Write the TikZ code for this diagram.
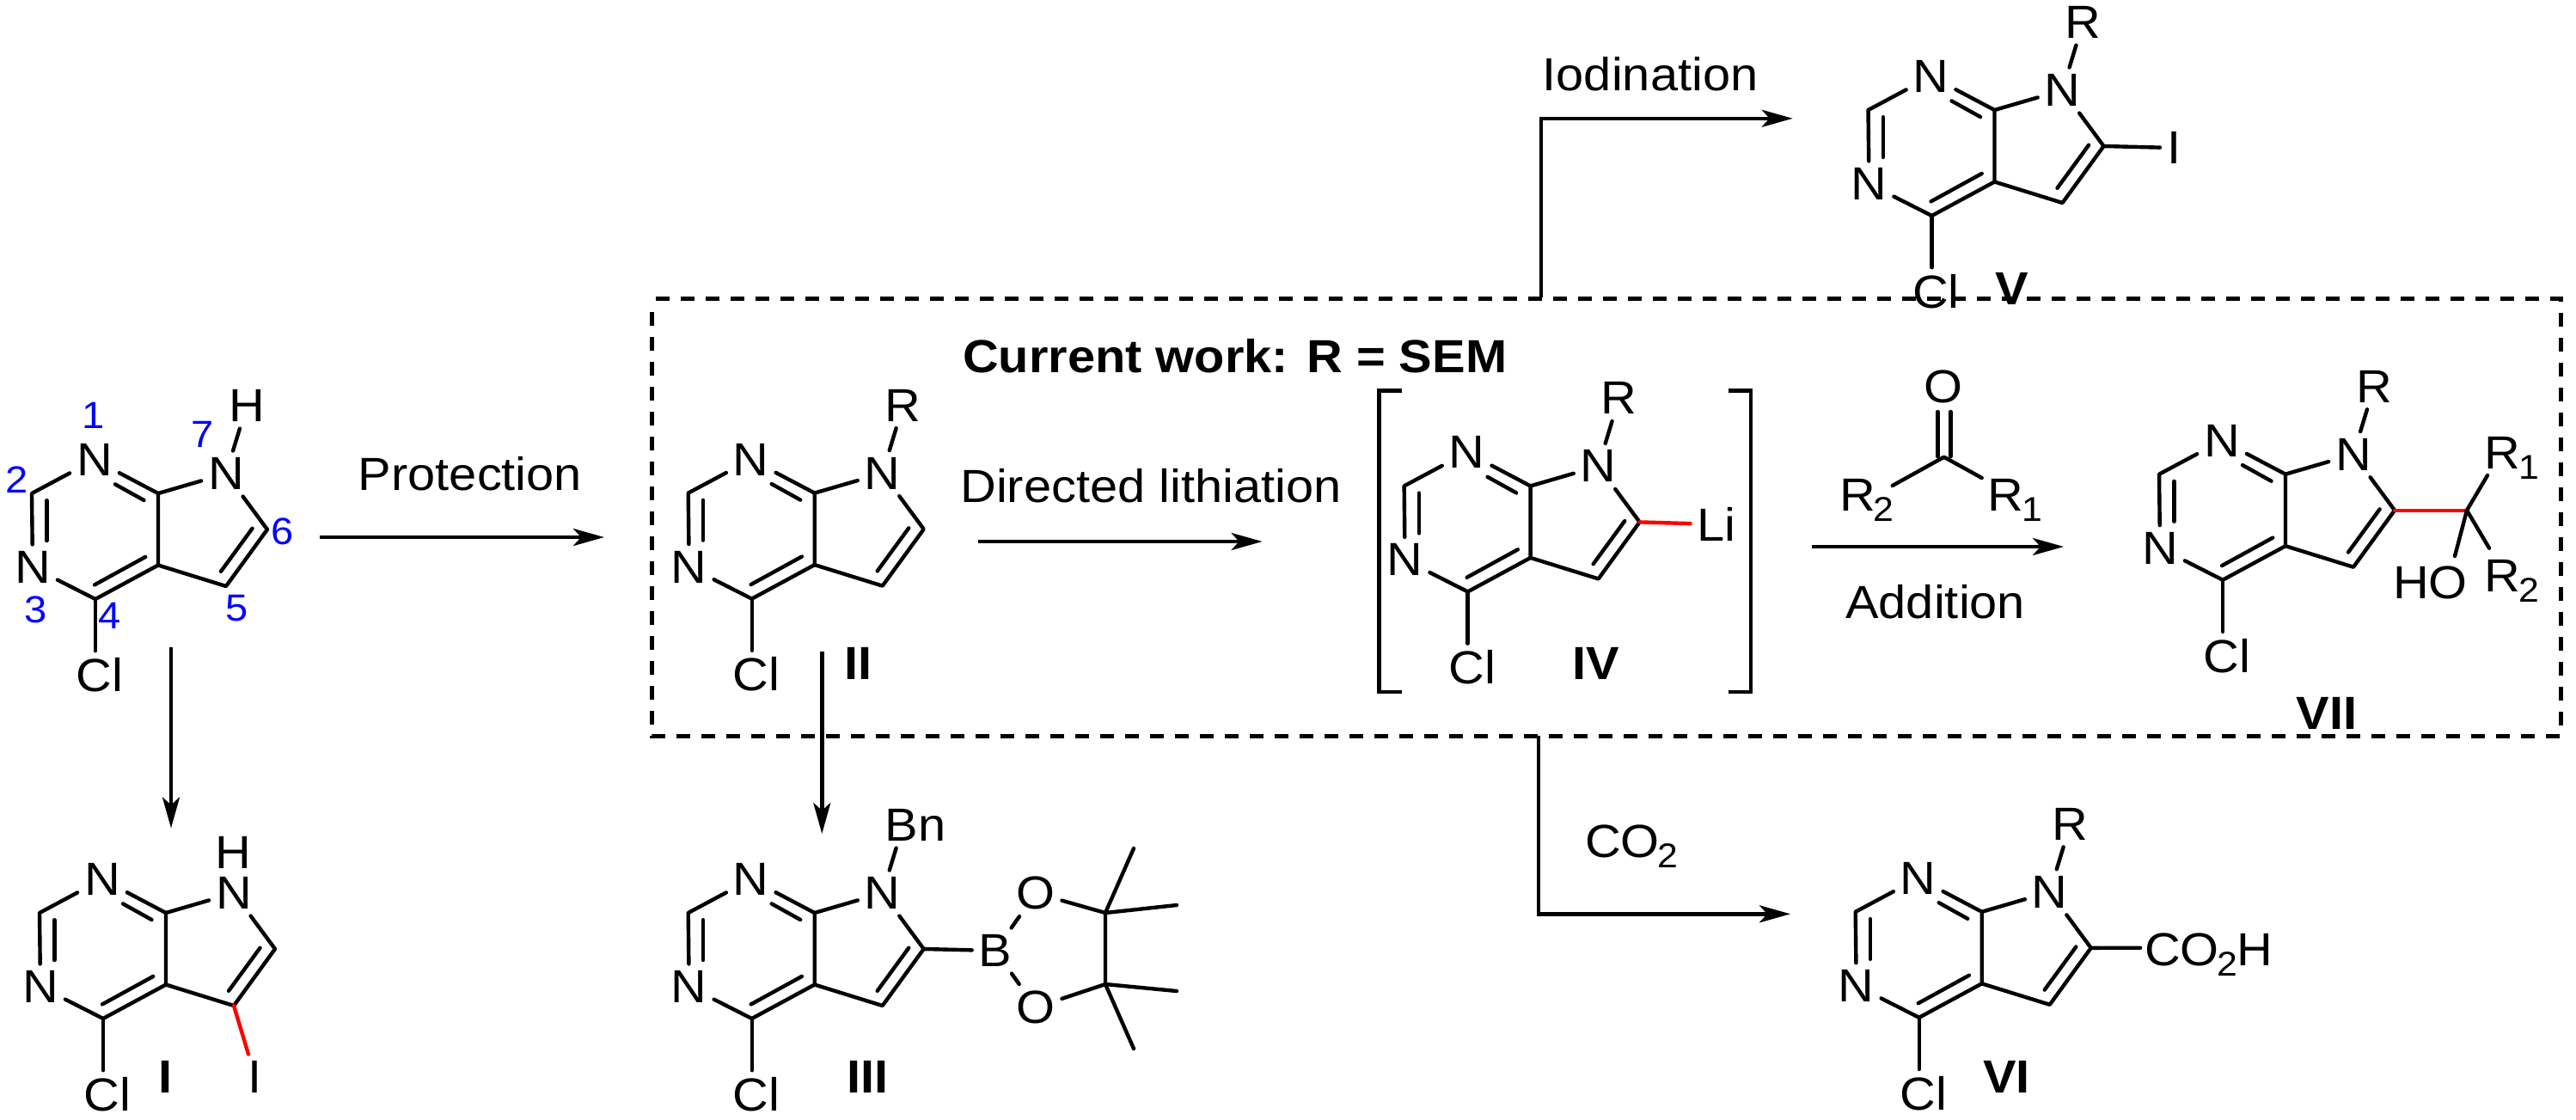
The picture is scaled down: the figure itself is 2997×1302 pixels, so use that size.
\documentclass[tikz,border=0pt]{standalone}
\usepackage{fontspec}
\setmainfont[FakeStretch=1.07]{Liberation Sans}
\usetikzlibrary{calc,arrows.meta}
\definecolor{numblue}{RGB}{0,0,255}
\definecolor{bondred}{RGB}{255,0,0}
\newcommand{\bigsz}{\fontsize{54}{60}\selectfont}
\newcommand{\lsub}[1]{\kern-2pt\raisebox{-12pt}{\fontsize{40}{40}\selectfont #1}\kern-1pt}
\tikzset{
  bond/.style={line width=4.4pt,line cap=round,line join=round},
  redbond/.style={bond,draw=bondred},
  atom/.style={font=\bigsz,inner sep=8pt,outer sep=0pt},
  txt/.style={font=\bigsz,inner sep=0pt},
  btxt/.style={font=\bigsz\bfseries,inner sep=0pt},
  num/.style={font=\fontsize{44}{50}\selectfont,text=numblue,inner sep=0pt},
  rxn/.style={line width=4.4pt,-{Stealth[length=36pt,width=20pt,inset=9pt]}},
  boxline/.style={line width=5pt,dash pattern=on 16pt off 13pt}
}
% pyrrolopyrimidine core: p = name prefix, x y = position of C7a
\newcommand{\pyrcore}[3]{%
\begin{scope}[shift={(#2,#3)}]
\node[atom] (#1N1) at (-74,-39) {N};
\node[atom] (#1N3) at (-146,86) {N};
\node[atom] (#1N7) at (79,-23) {N};
\node[atom] (#1Cl) at (-68,211) {Cl};
\coordinate (#1C2) at (-147,0);
\coordinate (#1C4) at (-73,123);
\coordinate (#1C4a) at (0,83.5);
\coordinate (#1C7a) at (0,0);
\coordinate (#1C6) at (127,42);
\coordinate (#1C5) at (79,108);
\coordinate (#1ia) at (-50,-10.6); \coordinate (#1ib) at (-16.5,8);
\coordinate (#1ic) at (-129.7,8.2); \coordinate (#1id) at (-129.7,55);
\coordinate (#1ie) at (-74,106.4); \coordinate (#1if) at (-14.8,73.9);
\coordinate (#1ig) at (73,90.8); \coordinate (#1ih) at (109.6,40.7);
\draw[bond] (#1N1) -- (#1C2) -- (#1N3) -- (#1C4) -- (#1C4a) -- (#1C7a) -- (#1N1);
\draw[bond] (#1C7a) -- (#1N7) -- (#1C6) -- (#1C5) -- (#1C4a);
\draw[bond] (#1C4) -- (#1C4 |- #1Cl.north);
\draw[bond] (#1ia) -- (#1ib);
\draw[bond] (#1ic) -- (#1id);
\draw[bond] (#1ie) -- (#1if);
\draw[bond] (#1ig) -- (#1ih);
\end{scope}}
% N-substituent with bond
\newcommand{\pyrsub}[2]{%
\node[atom] (#1R) at ($(#1C7a)+(103,-102)$) {#2};
\draw[bond] (#1N7) -- (#1R);}
\begin{document}
\begin{tikzpicture}[x=1pt,y=-1pt]
\useasboundingbox (0,0) rectangle (2997,1302);
\fill[white] (0,0) rectangle (2997,1302);

% dashed box
\coordinate (boxA) at (758,347);
\coordinate (boxB) at (2979,347);
\coordinate (boxC) at (2979,856);
\coordinate (boxD) at (758,856);
\draw[boxline] (763,347) -- (boxB) -- (boxC) -- (boxD) -- (758,352) ;

% ---- starting material
\pyrcore{a}{184}{574}
\pyrsub{a}{H}
\node[num] (n1) at (109,483) {1};
\node[num] (n2) at (20,558) {2};
\node[num] (n3) at (42,709) {3};
\node[num] (n4) at (128,716) {4};
\node[num] (n5) at (276,708) {5};
\node[num] (n6) at (329,618) {6};
\node[num] (n7) at (236,505) {7};

% ---- I
\pyrcore{i}{193}{1062}
\node[txt] (iH) at (271.5,992) {H};
\node[atom] (iI) at (297,1253) {I};
\draw[redbond] (iC5) -- (iI);
\node[btxt] (lI) at (192.5,1253) {I};

% ---- II
\pyrcore{ii}{947.7}{573.6}
\pyrsub{ii}{R}
\node[btxt] (lII) at (998.7,772) {II};

% ---- III
\pyrcore{iii}{947.7}{1062}
\node[atom] (iiiR) at ($(iiiC7a)+(103,-102)$) {\makebox[42pt][l]{Bn}};
\draw[bond] (iiiN7) -- (iiiR);
\node[atom] (B) at (1158,1106) {B};
\node[atom] (Ou) at (1205,1039) {O};
\node[atom] (Od) at (1205,1172) {O};
\coordinate (Cu) at (1286,1062);
\coordinate (Cd) at (1286,1145);
\coordinate (Me1) at (1319,987);
\coordinate (Me2) at (1369,1053);
\coordinate (Me3) at (1369,1153);
\coordinate (Me4) at (1319,1220);
\draw[bond] (iiiC6) -- (B);
\draw[bond] (B) -- (Ou);
\draw[bond] (B) -- (Od);
\draw[bond] (Ou) -- (Cu) -- (Cd) -- (Od);
\draw[bond] (Me1) -- (Cu) -- (Me2);
\draw[bond] (Me3) -- (Cd) -- (Me4);
\node[btxt] (lIII) at (1009.4,1253) {III};

% ---- IV
\pyrcore{iv}{1780.6}{565.4}
\pyrsub{iv}{R}
\node[atom] (Li) at (1997,610) {Li};
\draw[redbond] (ivC6) -- (Li);
\node[btxt] (lIV) at (1857,772) {IV};
\coordinate (bl1) at (1631,454.6); \coordinate (bl2) at (1604.6,454.6);
\coordinate (bl3) at (1604.6,804.8); \coordinate (bl4) at (1631,804.8);
\coordinate (br1) at (2011,454.6); \coordinate (br2) at (2037,454.6);
\coordinate (br3) at (2037,804.8); \coordinate (br4) at (2011,804.8);
\draw[line width=4.4pt] (bl1) -- (bl2) -- (bl3) -- (bl4);
\draw[line width=4.4pt] (br1) -- (br2) -- (br3) -- (br4);

% ---- V
\pyrcore{v}{2320.5}{128}
\pyrsub{v}{R}
\node[atom] (vI) at (2529,172) {I};
\draw[bond] (vC6) -- (vI);
\node[btxt] (lV) at (2341,336) {V};

% ---- VI
\pyrcore{vi}{2305.7}{1060.8}
\pyrsub{vi}{R}
\node[txt,anchor=base west] (coh) at (2495,1123) {CO\lsub{2}H};
\coordinate (cohb) at (2490,1102.7);
\draw[bond] (viC6) -- (cohb);
\node[btxt] (lVI) at (2334.7,1253) {VI};

% ---- VII
\pyrcore{vii}{2659}{551.7}
\pyrsub{vii}{R}
\coordinate (cq) at (2870,593.7);
\draw[redbond] (viiC6) -- (cq);
\coordinate (r1e) at (2894,553);
\coordinate (r2e) at (2896,637.7);
\coordinate (hoe) at (2856,647);
\draw[bond] (cq) -- (r1e);
\draw[bond] (cq) -- (r2e);
\draw[bond] (cq) -- (hoe);
\node[txt,anchor=base west] (vR1) at (2890.5,545) {R\lsub{1}};
\node[txt,anchor=base west] (vR2) at (2890.5,688) {R\lsub{2}};
\node[txt,anchor=base west] (vHO) at (2784,696.7) {HO};
\node[btxt] (lVII) at (2707,830) {VII};

% ---- ketone
\node[atom] (kO) at (2260.7,450) {O};
\coordinate (kC) at (2261.7,531.7);
\coordinate (kCa) at (2254.3,531); \coordinate (kCb) at (2269.3,531);
\coordinate (kOa) at (2254.3,479); \coordinate (kOb) at (2269.3,479);
\coordinate (kR2e) at (2201.7,565);
\coordinate (kR1e) at (2305.7,556);
\draw[bond] (kOa) -- (kCa);
\draw[bond] (kOb) -- (kCb);
\draw[bond] (kR2e) -- (kC) -- (kR1e);
\node[txt,anchor=base west] (kR2) at (2139.8,594.3) {R\lsub{2}};
\node[txt,anchor=base west] (kR1) at (2312.5,594.3) {R\lsub{1}};

% ---- reaction arrows and labels
\coordinate (p1) at (372,625); \coordinate (p2) at (703,625);
\draw[rxn] (p1) -- (p2);
\node[txt] (tProt) at (547,551) {Protection};
\coordinate (d1) at (199,753); \coordinate (d2) at (199,963.5);
\draw[rxn] (d1) -- (d2);
\coordinate (e1) at (956.3,758); \coordinate (e2) at (956.3,970);
\draw[rxn] (e1) -- (e2);
\coordinate (l1) at (1138,630); \coordinate (l2) at (1468.6,630);
\draw[rxn] (l1) -- (l2);
\node[txt] (tLith) at (1339,565) {Directed lithiation};
\coordinate (a1) at (2108,636); \coordinate (a2) at (2401,636);
\draw[rxn] (a1) -- (a2);
\node[txt,anchor=base] (tAdd) at (2251.7,719) {Addition};
\coordinate (u1) at (1793,346); \coordinate (u2) at (1793,137.8); \coordinate (u3) at (2085.7,137.8);
\draw[rxn] (u1) -- (u2) -- (u3);
\node[txt] (tIod) at (1920,86) {Iodination};
\coordinate (c1) at (1790,856); \coordinate (c2) at (1790,1063.3); \coordinate (c3) at (2083,1063.3);
\draw[rxn] (c1) -- (c2) -- (c3);
\node[txt,anchor=base west] (tCO) at (1844,997) {CO\lsub{2}};
\node[btxt,anchor=base west] (tCur) at (1120,433) {Current work: R = SEM};
\end{tikzpicture}
\end{document}
